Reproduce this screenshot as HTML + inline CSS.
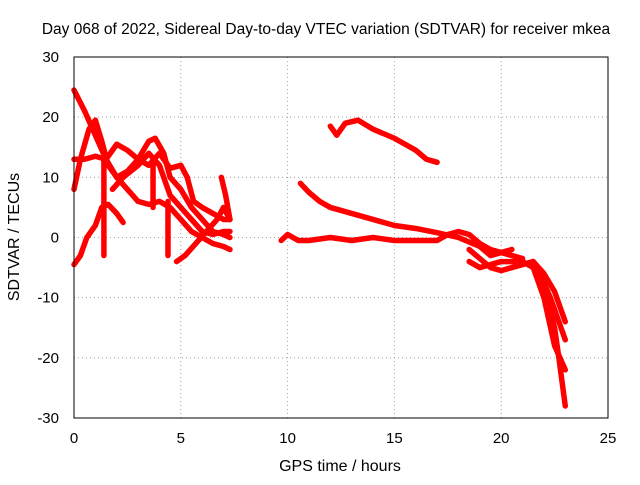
<!DOCTYPE html>
<html><head><meta charset="utf-8"><style>
body{margin:0;background:#fff}
svg{font-family:"Liberation Sans",sans-serif;font-size:15px}
</style></head><body>
<svg id="chart" width="640" height="480">
<rect width="640" height="480" fill="#fff"/>
<text x="326" y="34" text-anchor="middle" font-size="15.5">Day 068 of 2022, Sidereal Day-to-day VTEC variation (SDTVAR) for receiver mkea</text>
<text x="340" y="471" text-anchor="middle" font-size="16">GPS time / hours</text>
<text transform="translate(19,237) rotate(-90)" text-anchor="middle" font-size="16">SDTVAR / TECUs</text>
<g id="grid"></g><g id="ticks"></g><g id="series"></g>
<rect x="74" y="57" width="534" height="361" fill="none" stroke="#000"/>
</svg>
<script>
const xTicks=[0,5,10,15,20,25];
const yTicks=[-30,-20,-10,0,10,20,30];
const s1=[[0,24.5],[0.5,21],[1,17],[1.5,13],[2,10],[2.5,8],[3,6],[3.5,5.5],[4,6],[4.5,5],[5,3],[5.5,1],[6,0],[6.5,-1],[7,-1.5],[7.3,-2]];
const s2=[[0,-4.5],[0.3,-3],[0.6,0],[1,2],[1.3,5],[1.6,5.5],[2,4],[2.3,2.5]];
const s3=[[0,8],[0.3,13],[0.7,18],[1,19.5],[1.3,16],[1.6,12],[2,10],[2.5,11],[3,13],[3.5,16],[3.8,16.5],[4.2,14],[4.5,10],[5,8],[5.5,5],[6,3],[6.5,1],[7,0.5],[7.3,0]];
const s4=[[0,13],[0.5,13],[1,13.5],[1.5,13],[2,15.5],[2.5,14.5],[3,13],[3.5,12],[4,14],[4.5,11.5],[5,12],[5.3,10],[5.6,6],[6,5],[6.5,4],[7,3],[7.3,3]];
const s5=[[1.8,8],[2.3,10],[3,12],[3.5,14],[4,12],[4.5,7],[5,5],[5.5,3],[6,1],[6.5,0.5],[7,1],[7.3,1]];
const s6=[[4.8,-4],[5.2,-3],[5.7,-1],[6.2,1],[6.7,3],[7,5],[7.3,3]];
const s6b=[[6.9,10],[7.1,7],[7.3,3]];
const spikeA=[[1.4,13],[1.4,-3]];
const spikeB=[[3.7,13],[3.7,5]];
const spikeC=[[4.4,6],[4.4,-3]];
const s7=[[9.7,-0.5],[10,0.5],[10.5,-0.5],[11,-0.5],[12,0],[13,-0.5],[14,0],[15,-0.5],[16,-0.5],[17,-0.5],[17.5,0.5],[18,1],[18.5,0.5],[19,-1],[19.5,-2],[20,-2.5],[20.5,-3],[21,-3.5]];
const s8=[[10.6,9],[11,7.5],[11.5,6],[12,5],[13,4],[14,3],[15,2],[16,1.5],[17,0.8],[18,0],[19,-1.5],[19.5,-3],[20,-2.5],[20.5,-2]];
const s9=[[12,18.5],[12.3,17],[12.7,19],[13.3,19.5],[14,18],[15,16.5],[16,14.5],[16.5,13],[17,12.5]];
const s10=[[18.5,-2],[19,-3.5],[19.5,-5],[20,-5.5],[20.5,-5],[21.5,-4],[22,-6],[22.5,-9],[23,-14]];
const s11=[[18.5,-4],[19,-5],[20,-4],[21,-4],[21.5,-5],[22,-10],[22.5,-18],[23,-22]];
const s12=[[21.5,-4],[22,-8],[22.5,-15],[22.7,-20],[23,-28]];
const s13=[[21.8,-6],[22.3,-10],[22.8,-15],[23,-17]];
const allSeries=[s1,s2,s3,s4,s5,s6,s6b,spikeA,spikeB,spikeC,s7,s8,s9,s10,s11,s12,s13];
const X=v=>74+v*(534/25), Y=v=>418-(v+30)*(361/60);
const NS="http://www.w3.org/2000/svg";
const grid=document.getElementById('grid'),ticks=document.getElementById('ticks'),ser=document.getElementById('series');
function mk(t,a,p){const e=document.createElementNS(NS,t);for(const k in a)e.setAttribute(k,a[k]);p.appendChild(e);return e;}
xTicks.forEach(t=>{
 if(t>0&&t<25){const g=mk('line',{x1:X(t),x2:X(t),y1:57,y2:418,stroke:'#a0a0a0','stroke-dasharray':'1,3'},grid);
 
 }
 const l=mk('text',{x:X(t),y:443,'text-anchor':'middle'},ticks);l.textContent=t;
 
 
});
yTicks.forEach(t=>{
 if(t>-30&&t<30){const g=mk('line',{x1:74,x2:608,y1:Y(t),y2:Y(t),stroke:'#a0a0a0','stroke-dasharray':'1,3'},grid);
 
 }
 const l=mk('text',{x:59,y:Y(t)+5,'text-anchor':'end'},ticks);l.textContent=t;
 
 
});
allSeries.forEach(s=>{
 const p=mk('polyline',{points:s.map(d=>X(d[0])+','+Y(d[1])).join(' '),fill:'none',stroke:'#f00','stroke-width':5.5,'stroke-linejoin':'round','stroke-linecap':'round'},ser);
 
 
});
</script>
</body></html>
